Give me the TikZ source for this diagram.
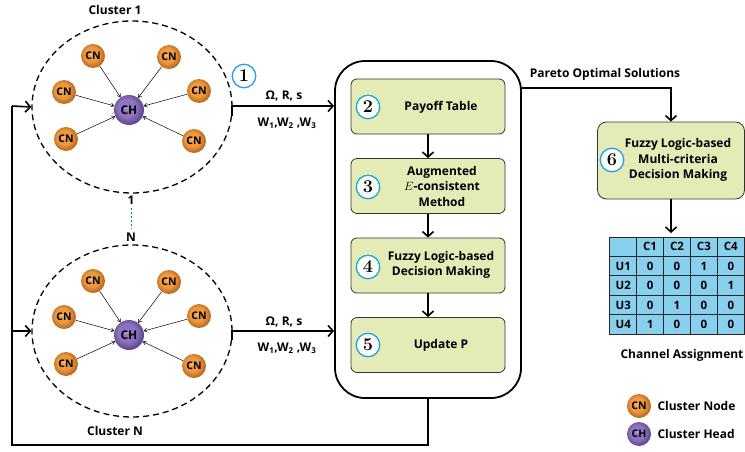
\documentclass[tikz,border=0pt]{standalone}
\usepackage{fontspec}
\setsansfont{Open Sans}
\usetikzlibrary{arrows.meta,shapes.geometric,matrix}
\definecolor{cnlight}{HTML}{F9C98A}
\definecolor{cnmid}{HTML}{EC9A42}
\definecolor{cndark}{HTML}{BE661C}
\definecolor{chlight}{HTML}{BCA8E0}
\definecolor{chmid}{HTML}{8E74BE}
\definecolor{chdark}{HTML}{5E4890}
\definecolor{boxgreen}{HTML}{E4EBB6}
\definecolor{numblue}{HTML}{1FA3DF}
\definecolor{tblue}{HTML}{88D0EE}
\definecolor{dotblue}{HTML}{1F6FC5}
\pgfdeclareradialshading{cnball}{\pgfpoint{-5bp}{5bp}}{color(0bp)=(cnlight); color(5bp)=(cnmid); color(15bp)=(cnmid); color(26bp)=(cndark); color(50bp)=(cndark)}
\pgfdeclareradialshading{chball}{\pgfpoint{-5bp}{5bp}}{color(0bp)=(chlight); color(5bp)=(chmid); color(15bp)=(chmid); color(26bp)=(chdark); color(50bp)=(chdark)}
\begin{document}
\begin{tikzpicture}[x=1pt,y=-1pt,
  lab/.style={font=\sffamily\bfseries\fontsize{12}{13}\selectfont},
  cn/.style={circle,inner sep=0,minimum size=24pt,shading=cnball,font=\sffamily\bfseries\fontsize{10.5}{10.5}\selectfont},
  ch/.style={circle,inner sep=0,minimum size=30pt,shading=chball,font=\sffamily\bfseries\fontsize{12}{12}\selectfont},
  cluster/.style={ellipse,draw,dash pattern=on 6pt off 4pt,line width=1.3pt,inner sep=0,minimum width=200pt,minimum height=172pt},
  thinarr/.style={-{Straight Barb[length=3pt,width=4pt]},line width=0.5pt},
  flow/.style={line width=1.6pt,-{Straight Barb[length=5pt,width=11pt]}},
  plain/.style={line width=1.6pt},
  numc/.style={circle,draw=numblue,line width=1.3pt,fill=white,inner sep=0,minimum size=23.5pt,font=\rmfamily\bfseries\fontsize{18}{18}\selectfont},
  stepbox/.style={draw=black!80,line width=0.8pt,fill=boxgreen,rounded corners=6pt,minimum width=154pt,minimum height=55pt},
  steptext/.style={align=center,font=\sffamily\bfseries\fontsize{12}{15.5}\selectfont}]
\useasboundingbox (0,0) rectangle (745,452);

% clusters
\node[cluster] (c1) at (132,107) {};
\node[cluster] (cN) at (132,331) {};
\node[lab] (t1) at (115,10) {Cluster 1};
\node[lab] (tN) at (115,431) {Cluster N};

\foreach \c/\dy in {a/0,b/225}{
  \node[ch] (\c ch) at (129,110+\dy) {CH};
  \node[cn] (\c1) at (93,56+\dy) {CN};
  \node[cn] (\c2) at (169,57+\dy) {CN};
  \node[cn] (\c3) at (64,92+\dy) {CN};
  \node[cn] (\c4) at (199,91+\dy) {CN};
  \node[cn] (\c5) at (66,139+\dy) {CN};
  \node[cn] (\c6) at (194,141+\dy) {CN};
  \foreach \i in {1,...,6}{\draw[thinarr] (\c\i) -- (\c ch);}
}

\node[lab] (one) at (131,200) {1};
\node[lab] (nn) at (131,237) {N};
\draw[dotblue,line width=0.8pt,dash pattern=on 2.5pt off 1.5pt] (one) -- (nn);

\node[numc] (n1) at (244,76) {1};

% main box
\node[draw,line width=1.8pt,rounded corners=30pt,minimum width=186pt,minimum height=337pt] (main) at (428,229.5) {};
\node[stepbox] (s2) at (428,106.5) {};
\node[stepbox] (s3) at (428,186) {};
\node[stepbox] (s4) at (428,265.5) {};
\node[stepbox] (s5) at (428,345) {};
\node[steptext] at (441,107) {Payoff Table};
\node[steptext] at (442,186) {Augmented\\$E$-consistent\\Method};
\node[steptext] at (441,265) {Fuzzy Logic-based\\Decision Making};
\node[steptext] at (441,345) {Update P};
\node[numc] (n2) at (368,107) {2};
\node[numc] (n3) at (368,187) {3};
\node[numc] (n4) at (368,267) {4};
\node[numc] (n5) at (368,345) {5};
\draw[flow] (s2) -- (s3);
\draw[flow] (s3) -- (s4);
\draw[flow] (s4) -- (s5);

% inputs
\draw[flow] (c1.-5) |- (main.west |- 0,106);
\draw[flow] (cN.-5) |- (main.west |- 0,331);
\node[lab] at (284,96) {Ω, R, s};
\node[lab] at (287,123) {W\textsubscript{1},W\textsubscript{2} ,W\textsubscript{3}};
\node[lab] at (284,322) {Ω, R, s};
\node[lab] at (287,348) {W\textsubscript{1},W\textsubscript{2} ,W\textsubscript{3}};

% feedback
\coordinate (fb) at (12,445);
\draw[plain] (main.south) |- (fb) -- (12,106);
\draw[flow] (12,106) -- (c1.west);
\draw[flow] (12,331) -- (cN.west);

% step 6
\node[stepbox,minimum width=147pt,minimum height=77pt,rounded corners=9pt] (s6) at (671,160.5) {};
\node[steptext] at (678,160) {Fuzzy Logic-based\\Multi-criteria\\Decision Making};
\node[numc] (n6) at (612,160) {6};
\draw[flow] (main.east |- 0,88) -| (s6.north);
\node[lab] at (605,74) {Pareto Optimal Solutions};

% table
\matrix (tab) [matrix of nodes,nodes in empty cells,
  nodes={draw=black!85,line width=0.8pt,fill=tblue,minimum width=26.9pt,minimum height=19.4pt,anchor=center,inner sep=0,font=\sffamily\bfseries\fontsize{11.5}{11.5}\selectfont},
  column sep=-0.8pt,row sep=-0.8pt] at (677,285.5) {
   & C1 & C2 & C3 & C4\\
  U1 & 0 & 0 & 1 & 0\\
  U2 & 0 & 0 & 0 & 1\\
  U3 & 0 & 1 & 0 & 0\\
  U4 & 1 & 0 & 0 & 0\\
};
\draw[flow] (s6.south) -- (tab.north -| s6.south);
\node[lab] at (682,355) {Channel Assignment};

% legend
\node[cn] (lcn) at (639,406) {CN};
\node[ch,minimum size=24pt,font=\sffamily\bfseries\fontsize{10.5}{10.5}\selectfont] (lch) at (639,434) {CH};
\node[lab,anchor=west] at (654,406) {Cluster Node};
\node[lab,anchor=west] at (654,434) {Cluster Head};
\end{tikzpicture}
\end{document}
